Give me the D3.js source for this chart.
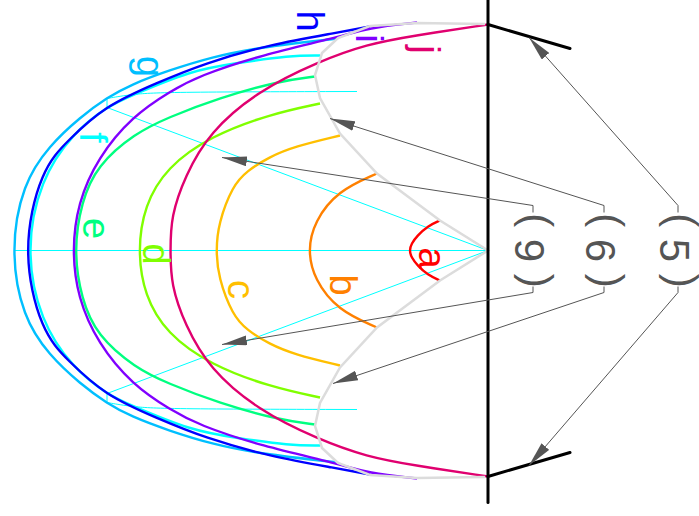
<!DOCTYPE html>
<html>
<head>
<meta charset="utf-8">
<script src="https://cdn.jsdelivr.net/npm/d3@7"></script>
<style>
  html, body { margin: 0; padding: 0; background: #fff; }
  svg { display: block; }
  text { font-family: "Liberation Sans", Arial, sans-serif; }
</style>
</head>
<body>
<div id="chart"></div>
<script>
// values are [depth behind the wall, offset from the centre line], upper half only
const curveA = [[48, 30], [60, 24], [70, 15], [76, 7], [78, 0]];
const curveB = [[111, 77], [148, 58], [171, 29], [178, 0]];
const curveC = [[148, 115], [191, 104], [218, 93], [240, 79], [255, 62], [268, 28], [271, 0]];
const curveD = [[168, 147], [218, 135], [275, 113], [318, 82], [341, 44], [348, 0]];
const curveE = [[173, 174], [211, 168], [268, 152], [318, 133], [353, 115], [388, 84], [405, 47], [412, 0]];
const curveF = [[168, 195], [201, 194], [251, 187], [298, 178], [355, 155], [381, 142], [415, 114], [445, 67], [458, 0]];
const curveG = [[150, 212], [225, 203], [275, 193], [318, 180], [355, 166], [381, 152], [408, 132], [438, 103], [463, 63], [474, 0]];
const curveH = [[118, 224], [155, 217], [218, 205], [281, 187], [331, 167], [381, 143], [418, 110], [445, 75], [461, 0]];
const curveI = [[71, 228], [118, 222], [155, 212], [225, 195], [285, 175], [318, 158], [355, 132], [388, 92], [408, 47], [414, 0]];
const curveJ = [[0, 226], [71, 215], [121, 205], [171, 187], [228, 158], [275, 118], [301, 75], [315, 35], [317, 0]];
const curves = [curveA, curveB, curveC, curveD, curveE, curveF, curveG, curveH, curveI, curveJ];

const curveNames = ['a', 'b', 'c', 'd', 'e', 'f', 'g', 'h', 'i', 'j'];
const curveLabelAt = [[57.5, -7.5], [147, -34.5], [249, -39], [334, -3.5], [393.5, 22], [397, 113], [340, 184], [180, 229.5], [121, 212], [64, 201]];

const boundary = [[3, 226.5], [71, 227.5], [118, 224.5], [150, 212.5], [166, 197.5], [173, 175.5], [168, 152.5], [148, 117], [111, 77], [48, 30], [0, 0]];
const fanEdge = [[381, 152], [355, 156.5], [321, 158.5], [131, 159]];
const rayEnd = [381, 143];
const centreLineEnd = 474;

const wallTop = 250.5;
const wallBottom = -252;
const tangentEnd = [-82, 202];

const groupNames = ['9', '6', '5'];
const groupAt = [-45, -116, -190];
const groupArrowTips = [[266, 93], [158, 132], [-41, 213]];
const groupArrowTipsLow = [[266, 94], [155, 133], [-41, 215]];

const colors = ['#ff0000', '#ff8000', '#ffbf00', '#80ff00', '#00ff80', '#00ffff', '#00bfff', '#0000ff', '#8000ff', '#e0006f'];
const width = 699;
const height = 516;

const x = d3.scaleLinear().domain([0, 488]).range([488, 0]);
const y = d3.scaleLinear().domain([-250.5, 250.5]).range([501, 0]);

const mirror = (pts) => pts.concat(pts.slice(0, -1).reverse().map((d) => [d[0], -d[1]]));

// curveBasis pulls a line inside its points, so push them out by the same amount first
const pushOut = (pts) => pts.map((d, i) => {
  if (i === 0 || i === pts.length - 1) return d;
  return [0, 1].map((k) => d[k] + (2 * d[k] - pts[i - 1][k] - pts[i + 1][k]) / 6);
});

const line = d3.line().x((d) => x(d[0])).y((d) => y(d[1]));
const smooth = d3.line().x((d) => x(d[0])).y((d) => y(d[1])).curve(d3.curveBasis);

const svg = d3.select('#chart').append('svg').attr('width', width).attr('height', height);

svg.append('defs').append('marker')
  .attr('id', 'head')
  .attr('viewBox', '0 0 25 10')
  .attr('refX', 25)
  .attr('refY', 5)
  .attr('markerUnits', 'userSpaceOnUse')
  .attr('markerWidth', 25)
  .attr('markerHeight', 10)
  .attr('orient', 'auto')
  .append('path')
  .attr('d', 'M0,0L25,5L0,10Z')
  .attr('fill', '#555');

// thin construction lines
const guides = svg.append('g').attr('fill', 'none').attr('stroke', '#00ffff').attr('stroke-width', 1);
guides.append('path').attr('d', line([[0, 0], [centreLineEnd, 0]]));
[1, -1].forEach((s) => {
  guides.append('path').attr('d', line([[0, 0], [rayEnd[0], s * rayEnd[1]], [fanEdge[0][0], s * fanEdge[0][1]]]));
  guides.append('path').attr('d', smooth(fanEdge.map((d) => [d[0], s * d[1]])));
});

svg.append('g')
  .attr('fill', 'none')
  .attr('stroke-width', 2.4)
  .selectAll('path')
  .data(curves)
  .join('path')
  .attr('stroke', (d, i) => colors[i])
  .attr('d', (d) => smooth(pushOut(mirror(d))));

svg.append('path')
  .attr('fill', 'none')
  .attr('stroke', '#dcdcdc')
  .attr('stroke-width', 2.5)
  .attr('d', line(mirror(boundary)));

svg.append('g')
  .attr('stroke', '#000')
  .attr('stroke-width', 3)
  .attr('stroke-linecap', 'round')
  .selectAll('path')
  .data([
    [[0, wallTop], [0, wallBottom]],
    [[0, 226], tangentEnd],
    [[0, -226], [tangentEnd[0], -tangentEnd[1]]],
  ])
  .join('path')
  .attr('d', (d) => line(d));

// curve letters, turned a quarter
svg.append('g')
  .attr('font-size', 38)
  .selectAll('text')
  .data(curveNames)
  .join('text')
  .attr('text-anchor', 'middle')
  .attr('transform', (d, i) => `translate(${x(curveLabelAt[i][0])},${y(curveLabelAt[i][1])}) rotate(90)`)
  .attr('dy', '0.3em')
  .attr('fill', (d, i) => colors[i])
  .text((d) => d);

// the brackets sit higher on the line than the digit they hold
const groups = svg.append('g')
  .attr('font-size', 42)
  .attr('fill', '#555')
  .selectAll('text')
  .data(groupNames)
  .join('text')
  .attr('text-anchor', 'middle')
  .attr('transform', (d, i) => `translate(${x(groupAt[i])},${y(0)}) rotate(90)`);
groups.append('tspan').attr('dy', 10.5).text('( ');
groups.append('tspan').attr('dy', 8).text((d) => d);
groups.append('tspan').attr('dy', -8).text(' )');

// leaders from the bracket numbers to the features they name
const leaders = svg.append('g')
  .attr('fill', 'none')
  .attr('stroke', '#555')
  .attr('stroke-width', 1);
groupAt.forEach((g, i) => {
  leaders.append('path')
    .attr('marker-end', 'url(#head)')
    .attr('d', line([[g, 38], [g, 45], groupArrowTips[i]]));
  leaders.append('path')
    .attr('marker-end', 'url(#head)')
    .attr('d', line([[g, -36], [g, -42], [groupArrowTipsLow[i][0], -groupArrowTipsLow[i][1]]]));
});
</script>
</body>
</html>
